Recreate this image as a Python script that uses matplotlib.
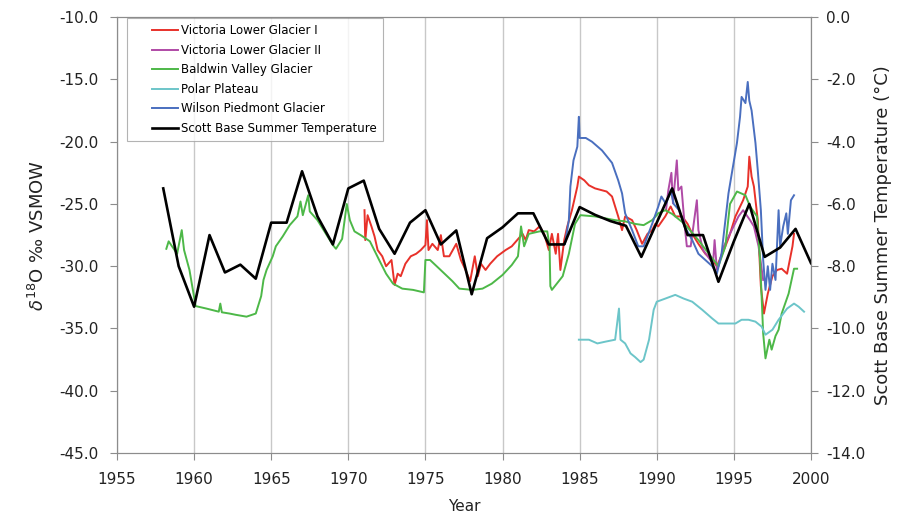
import matplotlib
matplotlib.use("Agg")
import matplotlib.pyplot as plt
from matplotlib.lines import Line2D
from matplotlib.legend_handler import HandlerLine2D
from matplotlib.ticker import FormatStrFormatter, MultipleLocator

# Scott Base summer temperature (right axis, deg C), one value per year
temp_years = list(range(1958, 2001))
temp_vals = [-5.5, -8.0, -9.3, -7.0, -8.2, -7.95, -8.4, -6.6, -6.6, -4.95,
             -6.4, -7.3, -5.5, -5.25, -6.8, -7.6, -6.6, -6.2, -7.3, -6.85,
             -8.9, -7.1, -6.75, -6.3, -6.3, -7.3, -7.3, -6.1, -6.35, -6.55,
             -6.7, -7.7, -6.6, -5.5, -7.0, -7.0, -8.5, -7.2, -6.0, -7.7,
             -7.4, -6.8, -7.9]

# Baldwin Valley Glacier
bv_years = [1958.2, 1958.35, 1958.9, 1959.2, 1959.35, 1959.7, 1960.1, 1960.8, 1961.6, 1961.7,
            1961.8, 1962.3, 1962.7, 1963.4, 1964.0, 1964.35, 1964.5, 1964.7, 1965.1, 1965.3,
            1965.75, 1966.2, 1966.7, 1966.9, 1967.05, 1967.4, 1967.5, 1968.0, 1968.6, 1969.0,
            1969.2, 1969.6, 1969.9, 1970.1, 1970.4, 1970.8, 1971.4, 1972.0, 1972.45, 1972.9,
            1973.5, 1974.2, 1974.9, 1975.0, 1975.3, 1975.9, 1976.75, 1977.2, 1978.05, 1978.7,
            1979.3, 1980.0, 1980.6, 1981.0, 1981.2, 1981.4, 1981.7, 1982.4, 1982.9, 1983.05,
            1983.1, 1983.2, 1983.9, 1984.3, 1984.7, 1985.05, 1986.0, 1987.3, 1987.95, 1988.6,
            1989.15, 1989.7, 1990.1, 1990.55, 1991.0, 1991.8, 1992.7, 1993.5, 1994.0, 1994.45,
            1994.75, 1995.2, 1995.75, 1996.05, 1996.5, 1996.7, 1996.9, 1997.05, 1997.3, 1997.45,
            1997.7, 1997.9, 1998.1, 1998.55, 1998.9, 1999.1]
bv_vals = [-28.6, -28.0, -29.0, -27.1, -28.7, -30.3, -33.2, -33.4, -33.65, -33.0,
           -33.7, -33.8, -33.9, -34.05, -33.8, -32.4, -31.1, -30.3, -29.2, -28.4,
           -27.6, -26.7, -26.0, -24.8, -25.9, -24.3, -25.6, -26.3, -27.5, -28.3,
           -28.6, -27.8, -25.0, -26.3, -27.2, -27.5, -28.0, -29.5, -30.6, -31.4,
           -31.8, -31.9, -32.1, -29.5, -29.5, -30.2, -31.2, -31.8, -31.9, -31.8,
           -31.4, -30.7, -29.9, -29.2, -26.8, -28.4, -27.4, -27.2, -27.2, -28.4,
           -31.6, -31.9, -30.8, -29.0, -26.6, -25.9, -26.0, -26.3, -26.4, -26.6,
           -26.7, -26.3, -25.75, -25.5, -25.8, -26.6, -27.9, -29.2, -30.0, -28.4,
           -25.0, -24.0, -24.3, -25.2, -26.0, -29.5, -35.4, -37.4, -35.9, -36.7,
           -35.6, -35.1, -33.8, -32.2, -30.2, -30.2]

# Victoria Lower Glacier I
vl1_years = [1971.05, 1971.1, 1971.25, 1971.5, 1971.7, 1971.9, 1972.2, 1972.45, 1972.8, 1973.0,
             1973.2, 1973.4, 1973.7, 1974.05, 1974.4, 1974.7, 1975.0, 1975.1, 1975.2, 1975.45,
             1975.8, 1976.0, 1976.2, 1976.55, 1977.0, 1977.3, 1977.6, 1977.9, 1978.2, 1978.4,
             1978.6, 1978.9, 1979.2, 1979.65, 1980.2, 1980.6, 1980.95, 1981.3, 1981.5, 1981.7,
             1982.05, 1982.4, 1982.7, 1983.0, 1983.2, 1983.45, 1983.6, 1983.75, 1984.0, 1984.2,
             1984.5, 1984.85, 1984.95, 1985.3, 1985.6, 1986.0, 1986.45, 1986.75, 1987.1, 1987.3,
             1987.5, 1987.75, 1987.95, 1988.4, 1988.7, 1989.05, 1989.4, 1989.7, 1989.9, 1990.1,
             1990.55, 1990.9, 1991.2, 1991.65, 1992.0, 1992.3, 1992.7, 1993.15, 1993.6, 1993.9,
             1994.35, 1994.7, 1995.1, 1995.6, 1995.9, 1996.0, 1996.15, 1996.3, 1996.55, 1996.75,
             1996.95, 1997.2, 1997.5, 1997.8, 1998.1, 1998.45, 1998.8, 1998.9]
vl1_vals = [-25.5, -27.9, -25.9, -26.8, -27.6, -28.7, -29.2, -30.0, -29.5, -31.5,
            -30.6, -30.8, -29.8, -29.2, -29.0, -28.7, -28.3, -26.3, -28.7, -28.2,
            -28.7, -27.5, -29.2, -29.2, -28.2, -29.5, -30.3, -31.2, -29.2, -30.8,
            -29.8, -30.3, -29.8, -29.2, -28.7, -28.4, -27.9, -27.4, -27.9, -27.1,
            -27.2, -26.8, -27.4, -28.7, -27.4, -29.0, -27.4, -30.3, -27.9, -26.8,
            -25.5, -23.6, -22.8, -23.1, -23.5, -23.75, -23.9, -24.0, -24.4, -25.2,
            -26.0, -27.1, -26.0, -26.3, -27.1, -28.2, -27.4, -27.1, -26.6, -26.8,
            -26.0, -25.2, -26.0, -26.0, -26.6, -27.4, -28.2, -29.0, -29.5, -30.0,
            -28.7, -27.6, -26.0, -24.7, -23.6, -21.2, -22.8, -23.6, -26.3, -31.6,
            -33.8, -32.2, -30.8, -30.3, -30.2, -30.6, -28.4, -27.4]

# Victoria Lower Glacier II
vl2_years = [1990.6, 1990.75, 1990.95, 1991.05, 1991.3, 1991.4, 1991.6, 1991.8, 1991.95, 1992.2,
             1992.6, 1992.7, 1993.0, 1993.3, 1993.65, 1993.75, 1993.9, 1994.1, 1994.35,
             1995.3, 1995.6, 1996.05, 1996.3, 1996.6, 1996.9]
vl2_vals = [-25.5, -23.9, -22.5, -24.95, -21.5, -23.9, -23.6, -26.6, -28.4, -28.4,
            -24.7, -27.1, -28.7, -29.2, -29.8, -27.9, -30.3, -29.5, -28.4,
            -26.0, -25.5, -26.3, -26.8, -28.4, -31.1]

# Polar Plateau
pp_years = [1984.95, 1985.6, 1986.15, 1986.7, 1987.3, 1987.55, 1987.65, 1987.95, 1988.3, 1988.6,
            1988.95, 1989.15, 1989.5, 1989.8, 1990.0, 1990.55, 1991.2, 1991.75, 1992.3, 1992.95,
            1993.6, 1994.0, 1994.65, 1995.1, 1995.5, 1995.95, 1996.4, 1996.8, 1997.05, 1997.5,
            1997.9, 1998.45, 1998.9, 1999.2, 1999.55]
pp_vals = [-35.9, -35.9, -36.2, -36.05, -35.9, -33.4, -35.9, -36.2, -37.0, -37.3,
           -37.7, -37.5, -35.9, -33.5, -32.85, -32.6, -32.3, -32.6, -32.85, -33.5,
           -34.2, -34.6, -34.6, -34.6, -34.3, -34.3, -34.45, -34.85, -35.5, -35.1,
           -34.3, -33.4, -33.0, -33.25, -33.65]

# Wilson Piedmont Glacier
wp_years = [1984.05, 1984.3, 1984.4, 1984.6, 1984.85, 1984.95, 1985.0, 1985.4, 1985.8, 1986.45,
            1987.1, 1987.5, 1987.75, 1987.95, 1988.4, 1988.8, 1989.15, 1989.7, 1990.1, 1990.3,
            1990.6, 1990.9, 1991.1, 1991.45, 1991.8, 1992.3, 1992.7, 1993.15, 1993.6, 1993.9,
            1994.2, 1994.45, 1994.65, 1994.9, 1995.2, 1995.4, 1995.5, 1995.75, 1995.9, 1996.0,
            1996.15, 1996.4, 1996.55, 1996.75, 1996.9, 1997.05, 1997.2, 1997.35, 1997.5, 1997.7,
            1997.9, 1998.0, 1998.2, 1998.4, 1998.5, 1998.7, 1998.9]
wp_vals = [-28.2, -26.3, -23.6, -21.5, -20.4, -18.0, -19.7, -19.7, -20.0, -20.7,
           -21.7, -23.1, -24.15, -25.75, -27.1, -28.4, -28.4, -26.6, -25.2, -24.4,
           -25.0, -23.9, -25.0, -25.5, -26.8, -27.9, -29.0, -29.5, -30.0, -30.6,
           -29.0, -26.3, -24.15, -22.3, -20.1, -18.0, -16.4, -16.9, -15.2, -16.7,
           -17.5, -20.1, -22.3, -25.5, -29.5, -31.9, -30.0, -31.9, -29.8, -31.1,
           -25.5, -28.4, -26.8, -25.75, -27.4, -24.7, -24.3]

plt.rcParams['font.family'] = ['DejaVu Sans']

fig = plt.figure(figsize=(9.04, 5.21), dpi=100)
ax = fig.add_axes([0.1294, 0.1305, 0.7677, 0.8365])
ax2 = ax.twinx()

lw = 1.4
l1, = ax.plot(vl1_years, vl1_vals, color="#e8312a", lw=lw, label="Victoria Lower Glacier I")
l2, = ax.plot(vl2_years, vl2_vals, color="#b04aa6", lw=lw, label="Victoria Lower Glacier II")
l3, = ax.plot(bv_years, bv_vals, color="#4db848", lw=lw, label="Baldwin Valley Glacier")
l4, = ax.plot(pp_years, pp_vals, color="#6cc5c9", lw=lw, label="Polar Plateau")
l5, = ax.plot(wp_years, wp_vals, color="#4a6fbf", lw=lw, label="Wilson Piedmont Glacier")
l6, = ax2.plot(temp_years, temp_vals, color="black", lw=1.9, label="Scott Base Summer Temperature")

ax.set_xlim(1955, 2000)
ax.set_ylim(-45, -10)
ax2.set_ylim(-14, 0)
ax.xaxis.set_major_locator(MultipleLocator(5))
ax.yaxis.set_major_locator(MultipleLocator(5))
ax2.yaxis.set_major_locator(MultipleLocator(2))
ax.yaxis.set_major_formatter(FormatStrFormatter('%.1f'))
ax2.yaxis.set_major_formatter(FormatStrFormatter('%.1f'))

ax.grid(axis='x', color="#c8c8c8", lw=1)
ax.set_axisbelow(True)

for a in (ax, ax2):
    for s in a.spines.values():
        s.set_color("#8c8c8c")
    a.tick_params(colors="#8c8c8c", labelcolor="#222222", labelsize=11, length=5)
ax.tick_params(axis='x', pad=9)
ax.tick_params(axis='y', pad=8)
ax2.tick_params(axis='y', pad=6)

ax.set_xlabel("Year", fontsize=11, color="#222222", labelpad=8)
ax.set_ylabel(r"$\delta^{18}$O ‰ VSMOW", fontsize=13, color="#222222", labelpad=8)
ax2.set_ylabel("Scott Base Summer Temperature (°C)", fontsize=13, color="#222222", labelpad=6)

leg = ax2.legend(handles=[l1, l2, l3, l4, l5, l6], loc="upper left",
                 bbox_to_anchor=(0.013, 1.0), fontsize=8.5, frameon=True, fancybox=False,
                 edgecolor="#a0a0a0", handlelength=3.8, handletextpad=0.25,
                 labelspacing=0.55, borderpad=0.5, borderaxespad=0.1,
                 handler_map={Line2D: HandlerLine2D(xpad=1.6)})
leg.get_frame().set_linewidth(0.8)

fig.savefig("out.png", dpi=100)
